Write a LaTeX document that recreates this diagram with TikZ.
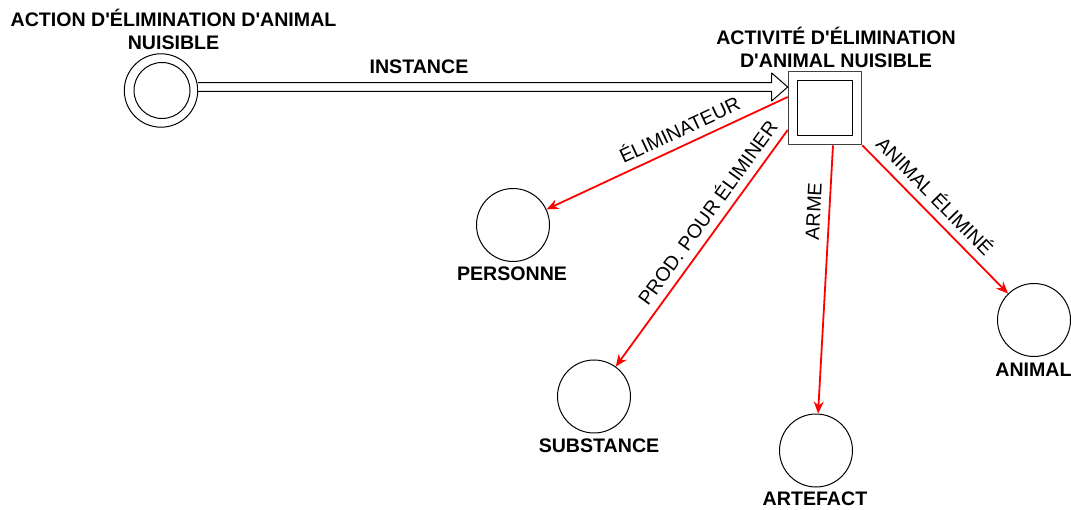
\documentclass[tikz,border=0pt]{standalone}
\usepackage{fontspec}
\setmainfont{Liberation Sans}
\usetikzlibrary{arrows.meta}
\tikzset{
  cerchio/.style={circle, draw, line width=1pt, minimum size=73pt, inner sep=0pt},
  etichetta/.style={font=\fontsize{19.6}{23}\selectfont\bfseries, align=center, inner sep=0pt},
  ruolo/.style={draw=red, line width=1.8pt, -{Stealth[length=12pt,width=10pt]}},
  testoruolo/.style={font=\fontsize{19.6}{23}\selectfont, sloped, above, inner sep=4pt, text height=14pt, text depth=4pt},
}
\begin{document}
\begin{tikzpicture}[x=1pt, y=-1pt, line join=round]
        \useasboundingbox (0,0) rectangle (1071,510);

        % Nodo azione (doppio cerchio) e nodo attivita (doppio quadrato)
        \node[cerchio, minimum size=73.4pt] (azione) at (161,90.5) {};
        \node[cerchio, minimum size=56pt] (azionein) at (162,90.5) {};
        \node[draw=black!75, line width=1.6pt, minimum size=73pt, inner sep=0pt] (attivita) at (825,108) {};
        \node[draw, line width=1.1pt, minimum size=55pt, inner sep=0pt] (attivitain) at (825,108) {};

        % Cerchi dei ruoli
        \node[cerchio] (persona) at (513,225) {};
        \node[cerchio] (sostanza) at (594,396.5) {};
        \node[cerchio] (artefatto) at (816,450.5) {};
        \node[cerchio] (animale) at (1034,320) {};

        % Etichette in grassetto
        \node[etichetta] (tazione) at (173.5,29.3) {ACTION D\textquotesingle ÉLIMINATION D\textquotesingle ANIMAL\\NUISIBLE};
        \node[etichetta] (tattivita) at (836,47.3) {ACTIVITÉ D\textquotesingle ÉLIMINATION\\D\textquotesingle ANIMAL NUISIBLE};
        \node[etichetta, anchor=base] (tistanza) at (419,74) {INSTANCE};
        \node[etichetta, anchor=base] (tpersona) at (512,280.7) {PERSONNE};
        \node[etichetta, anchor=base] (tsostanza) at (599,452) {SUBSTANCE};
        \node[etichetta, anchor=base] (tartefatto) at (815,505.7) {ARTEFACT};
        \node[etichetta, anchor=base] (tanimale) at (1033.5,377) {ANIMAL};

        % Freccia doppia (istanza)
        \coordinate (punta) at ([yshift=21pt]attivita.west);
        \draw[line width=1pt, fill=white] ([yshift=7.9pt]azione.east) -- ([xshift=-16pt,yshift=4.4pt]punta)
            -- ([xshift=-16pt,yshift=14pt]punta) -- (punta) -- ([xshift=-16pt,yshift=-14pt]punta)
            -- ([xshift=-16pt,yshift=-4.4pt]punta) -- ([yshift=-0.9pt]azione.east);

        % Archi rossi dei ruoli
        \coordinate (r1) at ([yshift=11pt]attivita.west);
        \coordinate (r2) at ([yshift=-22pt]attivita.west);
        \coordinate (r3) at ([xshift=8pt]attivita.south);
        \coordinate (r4) at (attivita.south east);
        \draw[ruolo] (r1) -- (persona) node[testoruolo, pos=0.42] (leliminateur) {ÉLIMINATEUR};
        \draw[ruolo] (r2) -- (sostanza) node[testoruolo, pos=0.39] (lprod) {PROD. POUR ÉLIMINER};
        \draw[ruolo] (r3) -- (artefatto) node[testoruolo, pos=0.25] (larme) {ARME};
        \draw[ruolo] (r4) -- (animale) node[testoruolo, pos=0.42] (lanimal) {ANIMAL ÉLIMINÉ};
    \end{tikzpicture}
\end{document}
